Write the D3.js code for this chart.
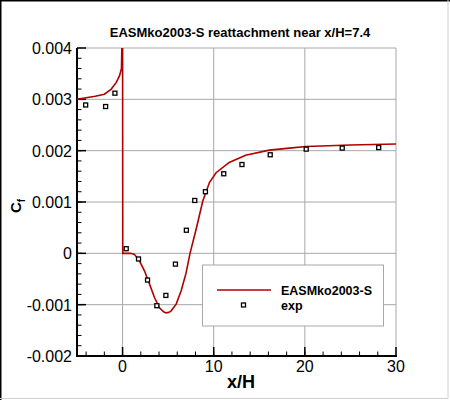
<!DOCTYPE html>
<html>
<head>
<meta charset="utf-8">
<script src="https://cdn.jsdelivr.net/npm/d3@7"></script>
<style>
  body { margin: 0; background: #fff; }
  svg { display: block; font-family: "Liberation Sans", Arial, sans-serif; }
</style>
</head>
<body>
<div class="chart"></div>
<script>
// values
const cfX = [-5, -4, -3, -2, -1.24, -0.69, -0.33, -0.12, -0.03, 0, 0.02, 0.5, 0.9, 1.3, 1.86, 2.4, 2.96,
  3.5, 4.05, 4.5, 4.78, 5.1, 5.33, 5.88, 6.43, 6.97, 7.4, 8.07, 8.8, 9.53, 10.26, 11.7, 13.5, 16.1, 18.3,
  20.15, 25, 30];
const cfY = [0.003, 0.00303, 0.00306, 0.0031, 0.0032, 0.00333, 0.00346, 0.0036, 0.0045, 0.0045, 0, 0, 0,
  -0.00002, -0.00015, -0.00034, -0.0006, -0.00086, -0.00106, -0.00114, -0.00116, -0.00115, -0.00112,
  -0.00099, -0.00073, -0.00038, 0, 0.00047, 0.00102, 0.00138, 0.00157, 0.00177, 0.00191, 0.00201,
  0.00205, 0.00208, 0.00211, 0.00213];

const expX = [-4.05, -1.86, -0.84, 0.4, 1.75, 2.74, 3.76, 4.75, 5.8, 7.0, 7.92, 9.09, 11.1, 13.1, 16.2,
  20.15, 24.1, 28.1];
const expY = [0.00289, 0.00286, 0.00312, 0.00009, -0.00011, -0.00052, -0.00102, -0.00082, -0.00021,
  0.00045, 0.00103, 0.0012, 0.00155, 0.00173, 0.00192, 0.00203, 0.00205, 0.00206];

const xTicks = [0, 10, 20, 30];
const yTicks = [-0.002, -0.001, 0, 0.001, 0.002, 0.003, 0.004];
const xMinor = d3.range(-4, 30, 2);
const yMinor = d3.range(-20, 40, 2).map(d => d / 10000);

const titleText = "EASMko2003-S reattachment near x/H=7.4";
const seriesNames = ["EASMko2003-S", "exp"];

const width = 450, height = 400;
const plotLeft = 77, plotRight = 396, plotTop = 48, plotBottom = 356;
const red = "#b00000", gridGray = "#a8a8a8";

const x = d3.scaleLinear().domain([-5, 30]).range([plotLeft, plotRight]);
const y = d3.scaleLinear().domain([-0.002, 0.004]).range([plotBottom, plotTop]);

const svg = d3.select(".chart").append("svg")
    .attr("width", width)
    .attr("height", height);

// picture frame: dark on top/left, light on right/bottom
svg.append("rect").attr("x", 0).attr("y", 0).attr("width", width).attr("height", height).attr("fill", "#fff");
svg.append("path").attr("d", `M0.75,${height} V0.75 H${width}`)
    .attr("fill", "none").attr("stroke", "#000").attr("stroke-width", 1.5);
svg.append("path").attr("d", `M${width - 2},0 V${height - 1.5} H0`)
    .attr("fill", "none").attr("stroke", "#d0d0d0").attr("stroke-width", 1);

svg.append("text")
    .attr("x", 240).attr("y", 37)
    .attr("text-anchor", "middle")
    .attr("font-size", 13).attr("font-weight", "bold")
    .text(titleText);

// grid
const grid = svg.append("g").attr("stroke", gridGray).attr("stroke-width", 1);
grid.selectAll(".gx").data(xTicks).enter().append("line")
    .attr("x1", d => x(d)).attr("x2", d => x(d)).attr("y1", plotTop).attr("y2", plotBottom);
grid.selectAll(".gy").data(yTicks).enter().append("line")
    .attr("x1", plotLeft).attr("x2", plotRight).attr("y1", d => y(d)).attr("y2", d => y(d));

svg.append("clipPath").attr("id", "plot")
  .append("rect").attr("x", plotLeft).attr("y", plotTop)
    .attr("width", plotRight - plotLeft).attr("height", plotBottom - plotTop);

// axes with inward ticks
const xAxis = svg.append("g").attr("transform", `translate(0,${plotBottom})`);
xAxis.selectAll(".minor").data(xMinor).enter().append("line")
    .attr("x1", d => x(d)).attr("x2", d => x(d)).attr("y1", 0).attr("y2", -4.5)
    .attr("stroke", "#000").attr("stroke-width", 1);
xAxis.selectAll(".major").data(xTicks).enter().append("line")
    .attr("x1", d => x(d)).attr("x2", d => x(d)).attr("y1", 0).attr("y2", -9)
    .attr("stroke", "#000").attr("stroke-width", 1.5);
xAxis.selectAll("text").data(xTicks).enter().append("text")
    .attr("x", d => x(d)).attr("y", 16)
    .attr("text-anchor", "middle").attr("font-size", 16)
    .text(d => d);
xAxis.append("line").attr("x1", plotLeft - 1).attr("x2", plotRight + 1).attr("stroke", "#000").attr("stroke-width", 2);

const yAxis = svg.append("g").attr("transform", `translate(${plotLeft},0)`);
yAxis.selectAll(".minor").data(yMinor).enter().append("line")
    .attr("y1", d => y(d)).attr("y2", d => y(d)).attr("x1", 0).attr("x2", 4.5)
    .attr("stroke", "#000").attr("stroke-width", 1);
yAxis.selectAll(".major").data(yTicks).enter().append("line")
    .attr("y1", d => y(d)).attr("y2", d => y(d)).attr("x1", 0).attr("x2", 9)
    .attr("stroke", "#000").attr("stroke-width", 1.5);
yAxis.selectAll("text").data(yTicks).enter().append("text")
    .attr("x", -5).attr("y", d => y(d) + 6)
    .attr("text-anchor", "end").attr("font-size", 16)
    .text(d => d === 0 ? "0" : d3.format(".3f")(d).replace("−", "-"));
yAxis.append("line").attr("y1", plotTop).attr("y2", plotBottom + 1).attr("stroke", "#000").attr("stroke-width", 2);

// axis titles
svg.append("text")
    .attr("x", 241).attr("y", 388)
    .attr("text-anchor", "middle").attr("font-size", 18).attr("font-weight", "bold")
    .text("x/H");
const cf = svg.append("text")
    .attr("transform", "translate(21,206) rotate(-90)")
    .attr("text-anchor", "middle").attr("font-size", 15).attr("font-weight", "bold");
cf.append("tspan").text("C");
cf.append("tspan").attr("font-size", 10).attr("dy", 4).text("f");

// series
const line = d3.line().x((d, i) => x(cfX[i])).y((d, i) => y(cfY[i]));
svg.append("path")
    .datum(cfY)
    .attr("clip-path", "url(#plot)")
    .attr("fill", "none").attr("stroke", red).attr("stroke-width", 1.6)
    .attr("d", line);

svg.append("g").selectAll("rect").data(expY).enter().append("rect")
    .attr("x", (d, i) => x(expX[i]) - 2).attr("y", d => y(d) - 2)
    .attr("width", 4).attr("height", 4)
    .attr("fill", "#fff").attr("stroke", "#000").attr("stroke-width", 1.3);

// legend
const legend = svg.append("g");
legend.append("rect")
    .attr("x", 202.5).attr("y", 265).attr("width", 181).attr("height", 61)
    .attr("fill", "#fff").attr("stroke", gridGray).attr("stroke-width", 1);
legend.append("line")
    .attr("x1", 217).attr("x2", 271).attr("y1", 290).attr("y2", 290)
    .attr("stroke", red).attr("stroke-width", 1.6);
legend.append("rect")
    .attr("x", 241.5).attr("y", 303).attr("width", 4).attr("height", 4)
    .attr("fill", "#fff").attr("stroke", "#000").attr("stroke-width", 1.3);
legend.selectAll("text").data(seriesNames).enter().append("text")
    .attr("x", 281).attr("y", (d, i) => 295 + i * 15)
    .attr("font-size", 12.5).attr("font-weight", "bold")
    .text(d => d);
</script>
</body>
</html>
